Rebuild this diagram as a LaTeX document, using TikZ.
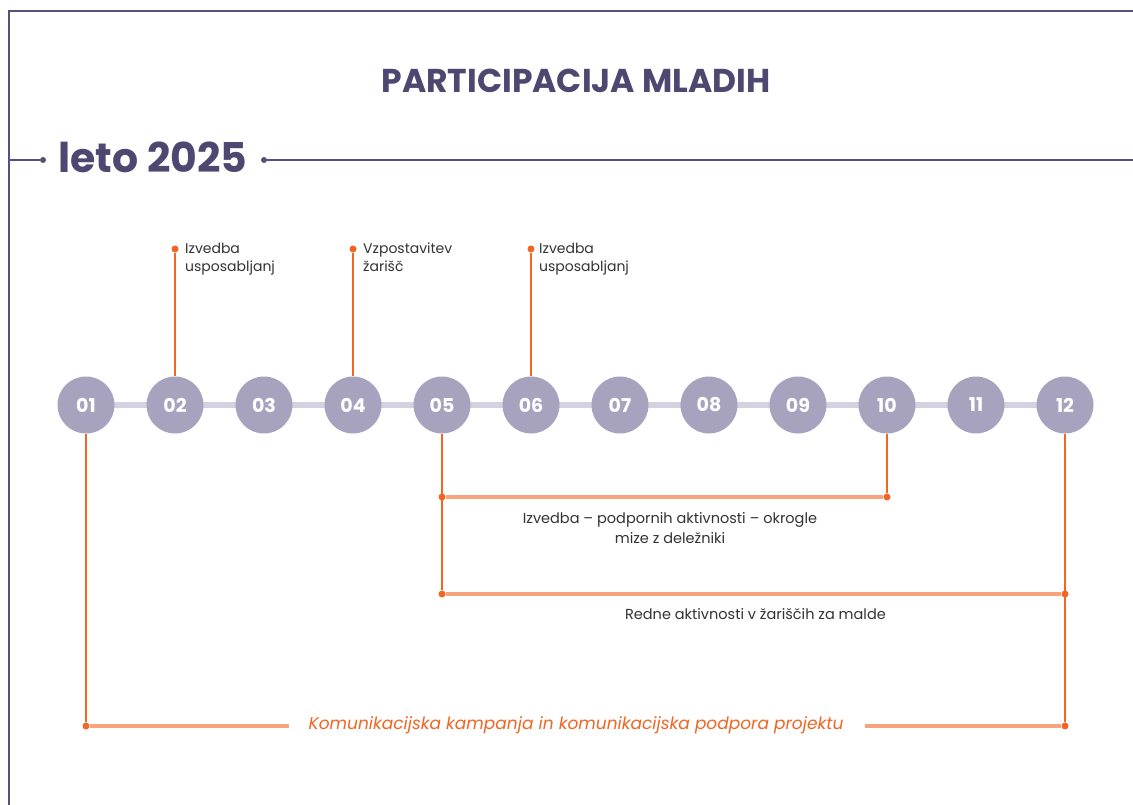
\documentclass[tikz,border=0pt]{standalone}
\usepackage{fontspec}
\setmainfont{Poppins}
\definecolor{framec}{HTML}{57507A}
\definecolor{titlec}{HTML}{4E4770}
\definecolor{circc}{HTML}{A7A3BF}
\definecolor{trackc}{HTML}{D4D1E0}
\definecolor{orangec}{HTML}{F26522}
\definecolor{barc}{HTML}{F7A47C}
\definecolor{textc}{HTML}{333333}
\begin{document}
\begin{tikzpicture}[x=1pt,y=-1pt,
  month/.style={circle,fill=circc,minimum size=57pt,inner sep=0pt,text=white,font=\fontsize{19}{19}\selectfont\bfseries},
  stem/.style={draw=orangec,line width=1.3pt},
  bar/.style={draw=barc,line width=4pt},
  odot/.style={circle,fill=orangec,minimum size=7pt,inner sep=0pt},
  lbl/.style={text=textc,font=\fontsize{14}{18}\selectfont,align=left,inner sep=0pt},
  clbl/.style={text=textc,font=\fontsize{14.5}{20}\selectfont,align=center,inner sep=0pt},
  fdot/.style={circle,fill=framec,minimum size=6pt,inner sep=0pt}]
\useasboundingbox (0,0) rectangle (1133,805);
\fill[white] (0,0) rectangle (1133,805);
% frame
\draw[framec,line width=2.2pt] (9,805) -- (9,11) -- (1133,11);
% title
\node[text=titlec,font=\fontsize{33}{33}\selectfont\bfseries] (title) at (576,81) {PARTICIPACIJA MLADIH};
% year line
\coordinate (yl) at (9,160);
\coordinate (yr) at (1133,160);
\node[fdot] (yd1) at (43,160) {};
\node[fdot] (yd2) at (264,160) {};
\node[text=titlec,font=\fontsize{41}{41}\selectfont\bfseries,anchor=center] (year) at (153,157) {leto 2025};
\draw[framec,line width=1.2pt] (yl) -- (yd1);
\draw[framec,line width=1.2pt] (yd2) -- (yr);
% track
\draw[trackc,line width=6pt] (86,405) -- (1065,405);
\foreach \i/\t in {1/01,2/02,3/03,4/04,5/05,6/06,7/07,8/08,9/09,10/10,11/11,12/12}{
  \node[month] (c\i) at ({86+(\i-1)*89},405) {\t};
}
% upward stems
\node[odot] (u2) at (175,249) {};
\node[odot] (u4) at (353,249) {};
\node[odot] (u6) at (531,249) {};
\draw[stem] (u2) -- (c2);
\draw[stem] (u4) -- (c4);
\draw[stem] (u6) -- (c6);
\node[lbl,anchor=north west] (l2) at (185,243) {Izvedba\\usposabljanj};
\node[lbl,anchor=north west] (l4) at (363,243) {Vzpostavitev\\žarišč};
\node[lbl,anchor=north west] (l6) at (539,243) {Izvedba\\usposabljanj};
% bars
\node[odot] (a5) at (442,497) {};
\node[odot] (a10) at (887,497) {};
\node[odot] (b5) at (442,594) {};
\node[odot] (b12) at (1065,594) {};
\node[odot] (d1) at (86,726) {};
\node[odot] (d12) at (1065,726) {};
\draw[bar] (a5) -- (a10);
\draw[bar] (b5) -- (b12);
\draw[stem] (c5) -- (b5);
\draw[stem] (c10) -- (a10);
\draw[stem] (c12) -- (d12);
\draw[stem] (c1) -- (d1);
\node[clbl] (la) at (670,528) {Izvedba – podpornih aktivnosti – okrogle\\mize z deležniki};
\node[clbl,anchor=east] (lb) at (886,614) {Redne aktivnosti v žariščih za malde};
\node[text=orangec,font=\fontsize{17}{17}\selectfont\itshape] (lc) at (576,725) {Komunikacijska kampanja in komunikacijska podpora projektu};
\coordinate (e1) at (289,726);
\coordinate (e2) at (865,726);
\draw[bar] (d1) -- (e1);
\draw[bar] (e2) -- (d12);
\end{tikzpicture}
\end{document}
